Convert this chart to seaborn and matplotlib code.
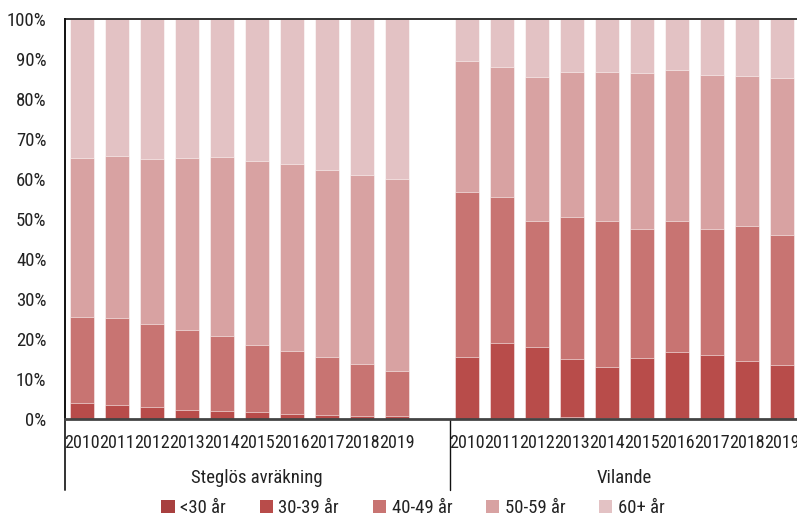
import matplotlib
matplotlib.use("Agg")
import matplotlib.pyplot as plt
import seaborn as sns
import pandas as pd
import numpy as np

sns.set_style("white")
plt.rcParams['font.family'] = ['Liberation Sans Narrow', 'Roboto Condensed', 'DejaVu Sans']
plt.rcParams['font.stretch'] = 'condensed'

years = ["2010", "2011", "2012", "2013", "2014", "2015", "2016", "2017", "2018", "2019"]
groups = ["Steglös avräkning", "Vilande"]
categories = ["<30 år", "30-39 år", "40-49 år", "50-59 år", "60+ år"]
colors = ["#a8403f", "#b84c4a", "#c87472", "#d8a2a2", "#e3c2c4"]

# shares in percent, per group, per category
steglos_u30 = [0.1, 0.1, 0.1, 0.1, 0.1, 0.1, 0.1, 0.1, 0.1, 0.1]
steglos_30 = [3.8, 3.5, 2.8, 2.1, 1.9, 1.6, 1.1, 0.9, 0.7, 0.7]
steglos_40 = [21.6, 21.6, 20.9, 20.0, 18.7, 16.9, 15.9, 14.6, 12.9, 11.3]
steglos_50 = [39.7, 40.5, 41.2, 43.1, 44.7, 45.9, 46.6, 46.7, 47.3, 47.8]
steglos_60 = [34.8, 34.3, 35.0, 34.7, 34.6, 35.5, 36.3, 37.7, 39.0, 40.1]

vilande_u30 = [0.0, 0.1, 0.3, 0.6, 0.3, 0.3, 0.1, 0.1, 0.1, 0.1]
vilande_30 = [15.6, 18.9, 17.6, 14.3, 12.7, 14.9, 16.6, 15.8, 14.3, 13.3]
vilande_40 = [41.1, 36.4, 31.7, 35.6, 36.4, 32.2, 32.7, 31.6, 33.9, 32.7]
vilande_50 = [32.8, 32.5, 36.0, 36.2, 37.3, 39.1, 37.8, 38.4, 37.4, 39.1]
vilande_60 = [10.5, 12.1, 14.4, 13.3, 13.3, 13.5, 12.8, 14.1, 14.3, 14.8]

series = {
    groups[0]: [steglos_u30, steglos_30, steglos_40, steglos_50, steglos_60],
    groups[1]: [vilande_u30, vilande_30, vilande_40, vilande_50, vilande_60],
}

rows = []
for g in groups:
    for ci, cat in enumerate(categories):
        for yi, yr in enumerate(years):
            rows.append({"key": f"{g}|{yr}", "group": g, "year": yr,
                         "cat": cat, "ci": ci, "value": series[g][ci][yi]})
df = pd.DataFrame(rows).sort_values(["key", "ci"])
df["cum"] = df.groupby("key")["value"].cumsum()

order = [f"{groups[0]}|{y}" for y in years] + ["__gap__"] + [f"{groups[1]}|{y}" for y in years]

fig = plt.figure(figsize=(7.97, 5.17), dpi=100)
W, H = 797, 517
ax = fig.add_axes([64.5 / W, (H - 419) / H, 735 / W, 400 / H])

for ci in reversed(range(len(categories))):
    sub = df[df["ci"] == ci]
    sns.barplot(data=sub, x="key", y="cum", order=order, color=colors[ci],
                saturation=1, width=0.67, errorbar=None,
                edgecolor=(1, 1, 1, 0.55), linewidth=0.7, ax=ax)

ax.set_xlim(-0.5, 20.5)
ax.set_ylim(0, 100)
ax.set_xlabel("")
ax.set_ylabel("")
ax.set_yticks(np.arange(0, 101, 10))
ax.set_yticklabels([f"{v}%" for v in range(0, 101, 10)])
ax.set_xticks(range(len(order)))
ax.set_xticklabels([o.split("|")[1] if "|" in o else "" for o in order])
ax.tick_params(axis="y", direction="in", length=4, width=1, pad=13, labelsize=13.5, colors="#222222")
ax.tick_params(axis="x", length=0, pad=11, labelsize=13, colors="#222222")
for lbl in ax.get_yticklabels() + ax.get_xticklabels():
    lbl.set_color("#222222")

for s in ["left", "top"]:
    ax.spines[s].set_visible(True)
    ax.spines[s].set_color("#111111")
    ax.spines[s].set_linewidth(1.4)
ax.spines["top"].set_linewidth(1.2)
ax.spines["bottom"].set_color("#444444")
ax.spines["bottom"].set_linewidth(2.0)
ax.spines["right"].set_visible(False)

tr = ax.get_xaxis_transform()
ax.plot([-0.5, -0.5], [0, -0.1775], transform=tr, color="#333333", lw=1.4, clip_on=False)
ax.plot([10.5, 10.5], [0, -0.1775], transform=tr, color="#111111", lw=1.0, clip_on=False)

ax.text(5.0, -0.1475, groups[0], transform=tr, ha="center", va="center", fontsize=13.5, color="#222222")
ax.text(15.5, -0.1475, groups[1], transform=tr, ha="center", va="center", fontsize=13.5, color="#222222")

from matplotlib.patches import Patch
handles = [Patch(facecolor=c, edgecolor="none") for c in colors]
fig.legend(handles, categories, loc="center", bbox_to_anchor=(413 / W, (H - 508) / H),
           ncol=5, frameon=False, fontsize=13.5, handlelength=0.7, handleheight=0.7,
           handletextpad=0.3, columnspacing=1.8, labelcolor="#222222")

fig.savefig("out.png", dpi=100)
